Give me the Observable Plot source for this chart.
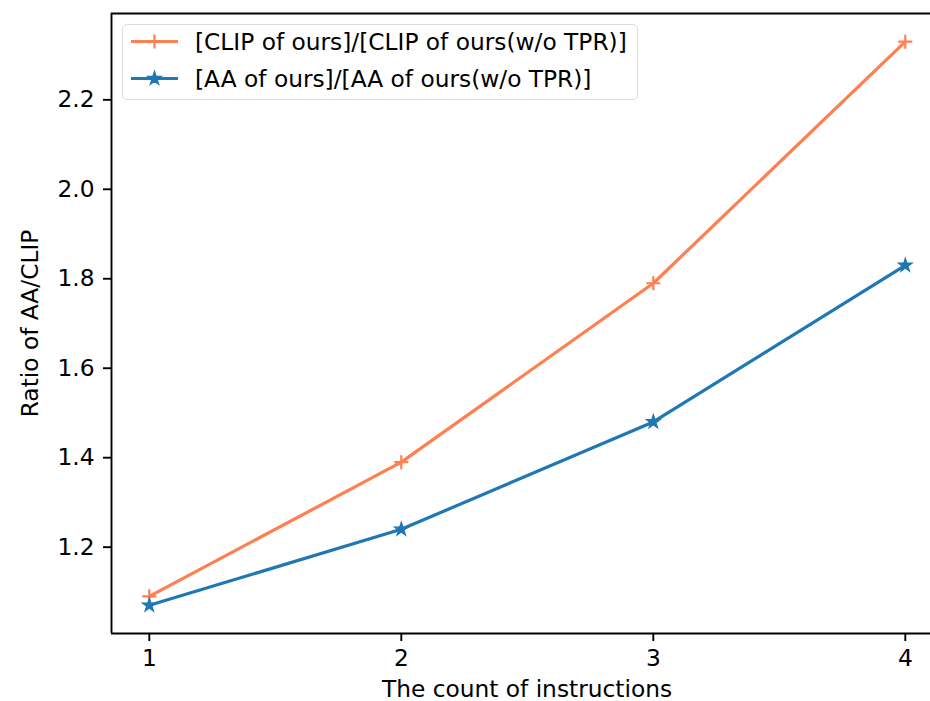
<!DOCTYPE html>
<html><head><meta charset="utf-8">
<script src="https://cdn.jsdelivr.net/npm/d3@7"></script>
<script src="https://cdn.jsdelivr.net/npm/@observablehq/plot@0.6"></script>
<style>
html,body{margin:0;padding:0;background:#fff;overflow:hidden}
#wrap{position:relative;width:930px;height:701px;font-family:"DejaVu Sans",sans-serif}
#legend{position:absolute;left:122px;top:24px;width:514px;height:74px;border:1.5px solid #dcdcdc;border-radius:5px;background:rgba(255,255,255,0.8);box-sizing:content-box}
.row{position:absolute;left:0;height:27px;display:flex;align-items:center;font-size:23.3px;color:#000;white-space:nowrap}
.row svg{margin-left:8px;margin-right:17px}
</style></head><body><div id="wrap"></div>
<script>
const instructions = [1, 2, 3, 4];
const clipRatio = [1.09, 1.39, 1.79, 2.33];
const aaRatio = [1.07, 1.24, 1.48, 1.83];
const seriesNames = ["[CLIP of ours]/[CLIP of ours(w/o TPR)]", "[AA of ours]/[AA of ours(w/o TPR)]"];
const seriesColors = ["#ff7f50", "#1f77b4"];
const seriesSymbols = ["plus", "star"];
const xTicks = [1, 2, 3, 4];
const yTicks = [1.2, 1.4, 1.6, 1.8, 2.0, 2.2];
const xLabel = "The count of instructions";
const yLabel = "Ratio of AA/CLIP";

const clipData = instructions.map((x, i) => ({x, y: clipRatio[i], series: seriesNames[0]}));
const aaData = instructions.map((x, i) => ({x, y: aaRatio[i], series: seriesNames[1]}));
const data = clipData.concat(aaData);

const xDomain = [0.85, 0.85 + 819 / 252];
const yDomain = [1.007, 2.393];

const chart = Plot.plot({
  width: 930,
  height: 701,
  marginLeft: 111,
  marginRight: 0,
  marginTop: 13,
  marginBottom: 68,
  style: {fontFamily: "DejaVu Sans", background: "white", color: "black"},
  x: {domain: xDomain},
  y: {domain: yDomain},
  color: {domain: seriesNames, range: seriesColors},
  marks: [
    Plot.ruleX([xDomain[0]], {stroke: "black", strokeWidth: 1.9}),
    Plot.ruleY(yDomain, {stroke: "black", strokeWidth: 1.9}),
    Plot.axisX({ticks: xTicks, tickFormat: d => String(d), tickSize: 8, tickPadding: 8, fontSize: 23.3, strokeWidth: 1.9, label: null}),
    Plot.text([xLabel], {text: d => d, frameAnchor: "bottom", lineAnchor: "bottom", dx: 6, dy: 63, fontSize: 23.3, fill: "black"}),
    Plot.axisY({ticks: yTicks, tickFormat: d3.format(".1f"), tickSize: 8, tickPadding: 9, fontSize: 23.3, strokeWidth: 1.9,
      label: yLabel, labelAnchor: "center", labelOffset: 90, labelArrow: "none"}),
    Plot.line(data, {x: "x", y: "y", z: "series", stroke: "series", strokeWidth: 3.2}),
    Plot.dot(clipData, {x: "x", y: "y", symbol: seriesSymbols[0], stroke: "series", strokeWidth: 2.2, r: 4.6}),
    Plot.dot(aaData, {x: "x", y: "y", symbol: seriesSymbols[1], fill: "series", stroke: "series", strokeWidth: 1.2, r: 4.3})
  ]
});

const wrap = document.getElementById("wrap");
wrap.appendChild(chart);

const legend = document.createElement("div");
legend.id = "legend";
const symGen = {plus: d3.symbolPlus, star: d3.symbolStar};
seriesNames.forEach((name, i) => {
  const row = document.createElement("div");
  row.className = "row";
  row.style.top = (3 + i * 37) + "px";
  const svg = d3.create("svg").attr("width", 47).attr("height", 27);
  svg.append("line").attr("x1", 0).attr("x2", 47).attr("y1", 13.5).attr("y2", 13.5)
    .attr("stroke", seriesColors[i]).attr("stroke-width", 3.2);
  const sym = seriesSymbols[i];
  const r = sym === "plus" ? 4.6 : 4.3;
  svg.append("path").attr("transform", "translate(23.5,13.5)")
    .attr("d", d3.symbol(symGen[sym], Math.PI * r * r)())
    .attr("fill", sym === "plus" ? "none" : seriesColors[i])
    .attr("stroke", seriesColors[i]).attr("stroke-width", sym === "plus" ? 2.2 : 1.2);
  row.appendChild(svg.node());
  const span = document.createElement("span");
  span.textContent = name;
  row.appendChild(span);
  legend.appendChild(row);
});
wrap.appendChild(legend);
</script>
</body></html>
